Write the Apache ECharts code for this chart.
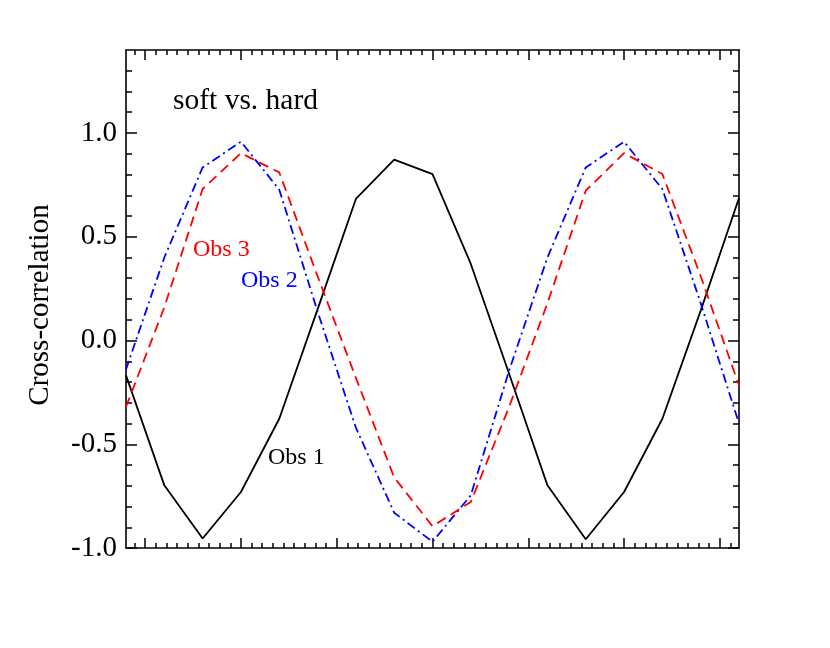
<!DOCTYPE html>
<html>
<head>
<meta charset="utf-8">
<script src="https://cdn.jsdelivr.net/npm/echarts@6/dist/echarts.min.js"></script>
<style>
html,body{margin:0;padding:0;background:#fff;}
#chart{width:830px;height:648px;}
</style>
</head>
<body>
<div id="chart"></div>
<script>
// ---- data ----
var lagIndex = [0,1,2,3,4,5,6,7,8,9,10,11,12,13,14,15,16];
var obs1 = [-0.168,-0.698,-0.954,-0.730,-0.377,0.150,0.682,0.872,0.802,0.369,-0.160,-0.698,-0.958,-0.730,-0.377,0.144,0.687];
var obs2 = [-0.140,0.400,0.834,0.958,0.727,0.140,-0.420,-0.830,-0.970,-0.746,-0.145,0.400,0.834,0.958,0.730,0.180,-0.400];
var obs3 = [-0.320,0.160,0.730,0.903,0.810,0.310,-0.180,-0.660,-0.895,-0.778,-0.320,0.180,0.722,0.903,0.802,0.310,-0.217];
var yTickLabels = [-1.0,-0.5,0.0,0.5,1.0];
var seriesNames = ['Obs 1','Obs 2','Obs 3'];
var titleText = 'soft vs. hard';
var yTitle = 'Cross-correlation';

// ---- tick positions ----
var xMin = 0, xMax = 16;
var xMajor = [], xMinor = [];
var step = 2.5 / 9;
for (var k = -20; k <= 60; k++) {
  var v = 3 + k * step;
  if (v <= xMin + 1e-6 || v >= xMax - 1e-6) continue;
  if (k % 9 === 0) xMajor.push(+v.toFixed(6)); else xMinor.push(+v.toFixed(6));
}
var yMinor = [];
for (var j = -10; j <= 14; j++) {
  if (j % 5 !== 0 && j > -10 && j < 14) yMinor.push(+(j / 10).toFixed(2));
}

function pairs(arr) { return lagIndex.map(function (x, i) { return [x, arr[i]]; }); }

var FONT = 'Liberation Serif';
var axisLineStyle = { color: '#000', width: 1.6 };

function xAx(pos, vals, len, showLine) {
  return {
    type: 'value', position: pos, min: xMin, max: xMax,
    axisLine: { show: showLine, onZero: false, lineStyle: axisLineStyle },
    axisTick: { show: true, inside: true, length: len, customValues: vals, lineStyle: { color: '#000', width: 1.5 } },
    axisLabel: { show: false },
    splitLine: { show: false }
  };
}
function yAx(pos, vals, len, showLine, labels) {
  var a = {
    type: 'value', position: pos, min: -1, max: 1.4,
    axisLine: { show: showLine, onZero: false, lineStyle: axisLineStyle },
    axisTick: { show: true, inside: true, length: len, customValues: vals, lineStyle: { color: '#000', width: 1.5 } },
    axisLabel: { show: false },
    splitLine: { show: false }
  };
  if (labels) {
    a.axisLabel = {
      show: true, customValues: yTickLabels, margin: 9,
      fontFamily: FONT, fontSize: 29, color: '#000',
      formatter: function (v) { return v.toFixed(1); }
    };
    a.name = yTitle;
    a.nameLocation = 'middle';
    a.nameRotate = 90;
    a.nameGap = 71;
    a.nameTextStyle = { fontFamily: FONT, fontSize: 29, color: '#000', padding: [0, 12, 0, 0] };
  }
  return a;
}

var chart = echarts.init(document.getElementById('chart'), null, { renderer: 'canvas' });
var option = {
  backgroundColor: '#fff',
  animation: false,
  grid: { left: 126, right: 91, top: 50, bottom: 100, containLabel: false },
  xAxis: [
    xAx('bottom', xMajor, 10, true),
    xAx('bottom', xMinor, 5, false),
    xAx('top', xMajor, 10, true),
    xAx('top', xMinor, 5, false)
  ],
  yAxis: [
    yAx('left', yTickLabels, 11, true, true),
    yAx('left', yMinor, 6, false, false),
    yAx('right', yTickLabels, 11, true, false),
    yAx('right', yMinor, 6, false, false)
  ],
  series: [
    { name: seriesNames[0], type: 'line', data: pairs(obs1), showSymbol: false, symbol: 'none',
      lineStyle: { color: '#000', width: 1.8, type: 'solid' } },
    { name: seriesNames[1], type: 'line', data: pairs(obs2), showSymbol: false, symbol: 'none',
      lineStyle: { color: '#0000ff', width: 1.8, type: [9, 4, 2, 4] } },
    { name: seriesNames[2], type: 'line', data: pairs(obs3), showSymbol: false, symbol: 'none',
      lineStyle: { color: '#ff0000', width: 1.8, type: [10, 6] } }
  ],
  graphic: [
    { type: 'text', left: 173, top: 86, style: { text: titleText, font: '29.5px "Liberation Serif"', fill: '#000' } },
    { type: 'text', left: 193, top: 238, style: { text: seriesNames[2], font: '24px "Liberation Serif"', fill: '#ff0000' } },
    { type: 'text', left: 241, top: 269, style: { text: seriesNames[1], font: '24px "Liberation Serif"', fill: '#0000ff' } },
    { type: 'text', left: 268, top: 446, style: { text: seriesNames[0], font: '24px "Liberation Serif"', fill: '#000' } }
  ]
};
chart.setOption(option);
</script>
</body>
</html>
